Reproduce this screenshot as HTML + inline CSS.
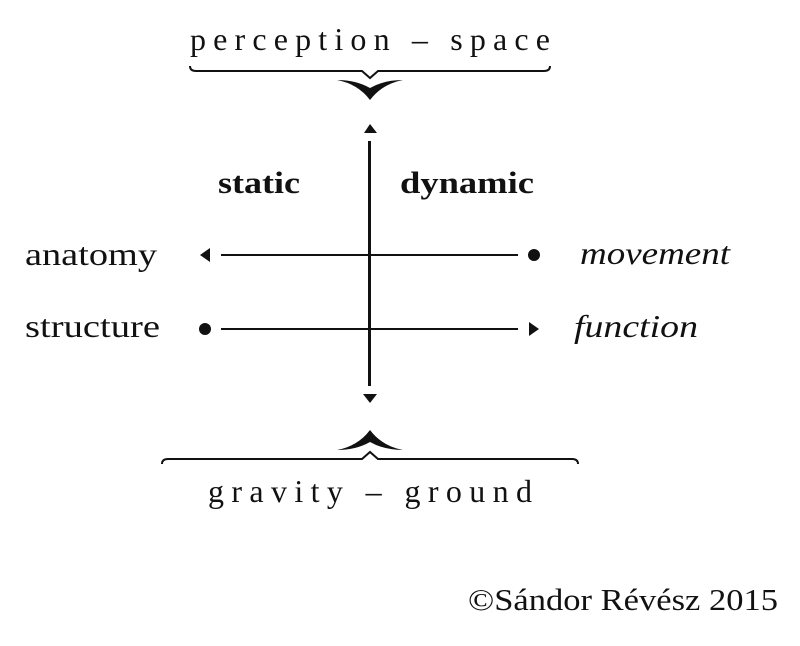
<!DOCTYPE html>
<html><head><style>html,body{margin:0;padding:0;background:#fff}</style></head>
<body>
<svg width="800" height="641" viewBox="0 0 800 641" xmlns="http://www.w3.org/2000/svg" font-family="Liberation Serif, serif" fill="#111">
<text x="190" y="50" font-size="32" textLength="360" lengthAdjust="spacing">perception – space</text>
<path d="M190,66 Q190,71 196,71 L362,71 L370,78 L378,71 L544,71 Q550,71 550,66" fill="none" stroke="#111" stroke-width="2"/>
<path d="M337,80 Q358,84 370,100 Q382,84 403,80 Q384,80 370,88 Q356,80 337,80 Z"/>
<polygon points="370,124 364,133 377,133"/>
<rect x="368" y="141" width="3" height="245"/>
<polygon points="363,394 377,394 370,403"/>
<path d="M337,450 Q358,446 370,430 Q382,446 403,450 Q384,450 370,442 Q356,450 337,450 Z"/>
<path d="M162,464 Q162,459 168,459 L362,459 L370,452 L378,459 L572,459 Q578,459 578,464" fill="none" stroke="#111" stroke-width="2"/>
<text x="208" y="502" font-size="32" textLength="324" lengthAdjust="spacing">gravity – ground</text>
<text x="218" y="193" font-size="31" font-weight="bold" textLength="82" lengthAdjust="spacingAndGlyphs">static</text>
<text x="400" y="193" font-size="31" font-weight="bold" textLength="134" lengthAdjust="spacingAndGlyphs">dynamic</text>
<text x="25" y="265" font-size="32" textLength="132" lengthAdjust="spacingAndGlyphs">anatomy</text>
<text x="25" y="337" font-size="32" textLength="135" lengthAdjust="spacingAndGlyphs">structure</text>
<text x="580" y="264" font-size="32" font-style="italic" textLength="150" lengthAdjust="spacingAndGlyphs">movement</text>
<text x="574" y="337" font-size="32" font-style="italic" textLength="124" lengthAdjust="spacingAndGlyphs">function</text>
<polygon points="200,255 210,248 210,262"/>
<rect x="221" y="254" width="297" height="2"/>
<circle cx="534" cy="255" r="6"/>
<circle cx="205" cy="329" r="6"/>
<rect x="221" y="328" width="297" height="2"/>
<polygon points="539,329 529,322 529,336"/>
<text x="468" y="610" font-size="31" textLength="310" lengthAdjust="spacingAndGlyphs">©Sándor Révész 2015</text>
</svg>
</body></html>
